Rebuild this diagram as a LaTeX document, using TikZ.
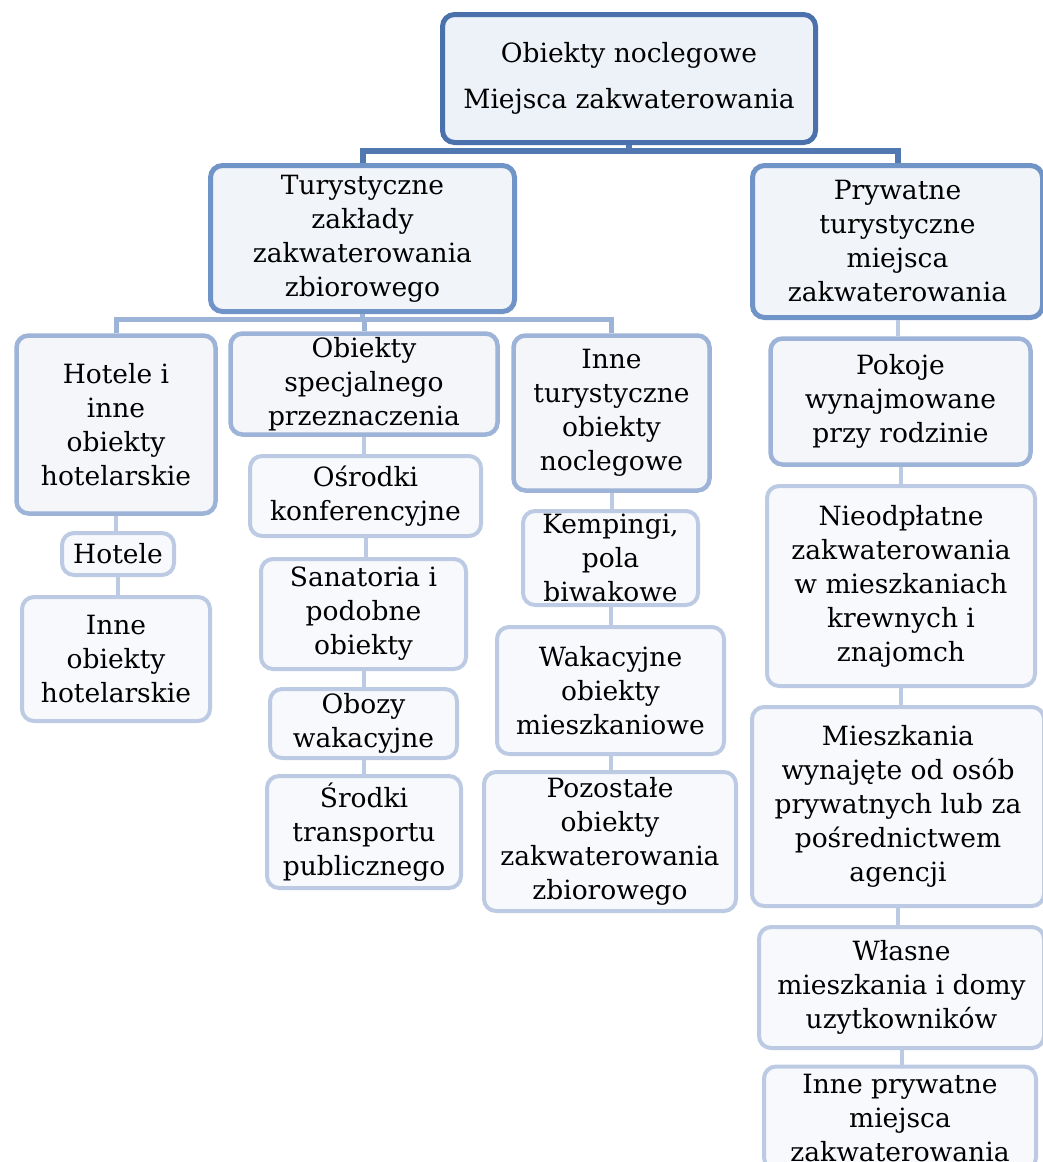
\documentclass[tikz,border=0pt]{standalone}
\usepackage{fontspec}
\setmainfont{DejaVu Serif}
\usepackage{tikz}
\usetikzlibrary{calc}
\definecolor{lvlzero}{HTML}{4A71AC}
\definecolor{lvlone}{HTML}{7094C7}
\definecolor{lvltwo}{HTML}{9DB3D8}
\definecolor{lvlthree}{HTML}{BCCBE3}
\definecolor{fillzero}{HTML}{EDF1F8}
\definecolor{fillone}{HTML}{F1F4F9}
\definecolor{filltwo}{HTML}{F4F6FA}
\definecolor{fillthree}{HTML}{F8F9FC}
\tikzset{
	box/.style={rounded corners=12pt, inner sep=0pt, align=center, font=\fontsize{26.5}{34}\selectfont},
	boxzero/.style={box, line width=5pt, draw=lvlzero, fill=fillzero},
	boxone/.style={box, line width=5pt, draw=lvlone, fill=fillone},
	boxtwo/.style={box, line width=4.5pt, draw=lvltwo, fill=filltwo},
	boxthree/.style={box, line width=4pt, draw=lvlthree, fill=fillthree},
	linkzero/.style={line width=6pt, color=lvlzero!80!lvlone},
	linkone/.style={line width=5pt, color=lvltwo},
	linktwo/.style={line width=4pt, color=lvlthree}
}

\begin{document}
\begin{tikzpicture}[x=1pt, y=-1pt]
		%%%%% START %%%%%
		\useasboundingbox (0, 0) rectangle (1043, 1162);
		
		\node[boxzero, minimum width=373pt, minimum height=128pt] (obiekty) at (629, 78.5) {Obiekty noclegowe\\[12pt]Miejsca zakwaterowania};
		
		\node[boxone, minimum width=304pt, minimum height=146pt] (turyst) at (362.5, 238.5) {Turystyczne\\zakłady\\zakwaterowania\\zbiorowego};
		\node[boxone, minimum width=290pt, minimum height=152pt] (prywat) at (897.5, 241.5) {Prywatne\\turystyczne\\miejsca\\zakwaterowania};
		
		\node[boxtwo, minimum width=199pt, minimum height=178pt] (hotinne) at (116, 424.5) {Hotele i\\inne\\obiekty\\hotelarskie};
		\node[boxtwo, minimum width=267pt, minimum height=101pt] (specjal) at (364, 384) {Obiekty\\specjalnego\\przeznaczenia};
		\node[boxtwo, minimum width=196pt, minimum height=155pt] (inneturyst) at (611.5, 413) {Inne\\turystyczne\\obiekty\\noclegowe};
		\node[boxtwo, minimum width=260pt, minimum height=126pt] (pokoje) at (900.5, 401.5) {Pokoje\\wynajmowane\\przy rodzinie};
		
		\node[boxthree, minimum width=112pt, minimum height=42pt] (hotele) at (118, 554) {Hotele};
		\node[boxthree, minimum width=188pt, minimum height=124pt] (innehot) at (116, 659) {Inne\\obiekty\\hotelarskie};
		
		\node[boxthree, minimum width=231pt, minimum height=80pt] (osrodki) at (365.5, 496) {Ośrodki\\konferencyjne};
		\node[boxthree, minimum width=205pt, minimum height=110pt] (sanat) at (363.5, 614) {Sanatoria i\\podobne\\obiekty};
		\node[boxthree, minimum width=187pt, minimum height=69pt] (obozy) at (363.5, 723.5) {Obozy\\wakacyjne};
		\node[boxthree, minimum width=194pt, minimum height=112pt] (srodki) at (364, 832) {Środki\\transportu\\publicznego};
		
		\node[boxthree, minimum width=175pt, minimum height=94pt] (kemp) at (610.5, 558) {Kempingi,\\pola\\biwakowe};
		\node[boxthree, minimum width=227pt, minimum height=127pt] (wakac) at (610.5, 690.5) {Wakacyjne\\obiekty\\mieszkaniowe};
		\node[boxthree, minimum width=252pt, minimum height=139pt] (pozost) at (610, 841.5) {Pozostałe\\obiekty\\zakwaterowania\\zbiorowego};
		
		\node[boxthree, minimum width=268pt, minimum height=200pt] (nieodpl) at (901, 586) {Nieodpłatne\\zakwaterowania\\w mieszkaniach\\krewnych i\\znajomch};
		\node[boxthree, minimum width=292pt, minimum height=199pt] (mieszk) at (898, 806.5) {Mieszkania\\wynajęte od osób\\prywatnych lub za\\pośrednictwem\\agencji};
		\node[boxthree, minimum width=285pt, minimum height=121pt] (wlasne) at (901.5, 987.5) {Własne\\mieszkania i domy\\uzytkowników};
		\node[boxthree, minimum width=272pt, minimum height=103pt] (inneprywat) at (900, 1118) {Inne prywatne\\miejsca\\zakwaterowania};
		
		% connectors
		\coordinate (busA) at (629, 151);
		\coordinate (busB) at (362.5, 319);
		\draw[linkzero] (obiekty.south) -- (busA);
		\draw[linkzero] (turyst.north) -- (turyst.north |- busA) -- (prywat.north |- busA) -- (prywat.north);
		
		\draw[linkone] (turyst.south) -- (busB);
		\draw[linkone] (hotinne.north) -- (hotinne.north |- busB) -- (inneturyst.north |- busB) -- (inneturyst.north);
		\draw[linkone] (specjal.north) -- (specjal.north |- busB);
		
		\foreach \a/\b in {hotinne/hotele, hotele/innehot, specjal/osrodki, osrodki/sanat, sanat/obozy, obozy/srodki, inneturyst/kemp, kemp/wakac, wakac/pozost, prywat/pokoje, pokoje/nieodpl, nieodpl/mieszk, mieszk/wlasne, wlasne/inneprywat}
			\draw[linktwo] (\a.south) -- (\a.south |- \b.north);
		
		%%%%% END %%%%%
\end{tikzpicture}
\end{document}
